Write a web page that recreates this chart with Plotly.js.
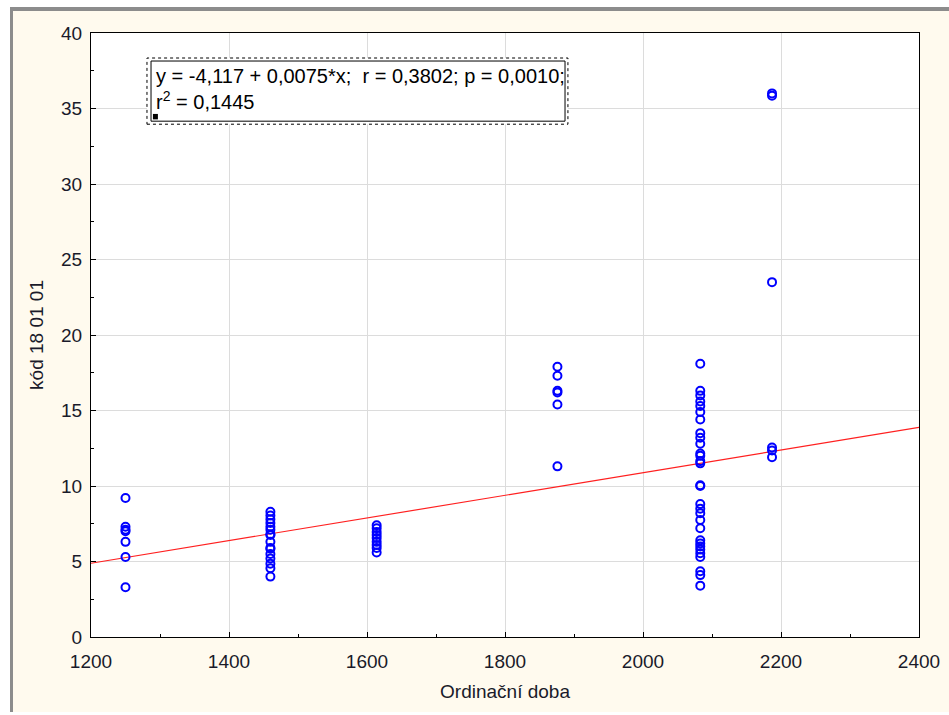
<!DOCTYPE html>
<html>
<head>
<meta charset="utf-8">
<script src="https://cdn.plot.ly/plotly-3.0.1.min.js"></script>
<style>
  html, body { margin: 0; padding: 0; background: #ffffff; }
  #frame { position: absolute; left: 10px; top: 7px; width: 939px; height: 705px;
           background: #fffaee; border-top: 4px solid #8c8c8c; border-left: 3px solid #8c8c8c; box-sizing: border-box; }
  #chart { position: absolute; left: 0; top: 0; width: 949px; height: 715px; }
</style>
</head>
<body>
<div id="frame"></div>
<div id="chart"></div>
<script>
// Data
const clusterX = [1250, 1460, 1614, 1876, 2083, 2187];
const clusterN = [7, 16, 9, 6, 30, 6];
const yKod = [
  9.2, 7.3, 7.1, 7.0, 6.3, 5.3, 3.3,
  8.3, 8.05, 7.8, 7.55, 7.3, 7.1, 6.8, 6.75, 6.3, 5.9, 5.85, 5.5, 5.2, 4.85, 4.55, 4.0,
  7.4, 7.2, 6.95, 6.75, 6.55, 6.3, 6.1, 5.9, 5.6,
  17.9, 17.3, 16.3, 16.2, 15.4, 11.3,
  18.1, 16.3, 16.0, 15.6, 15.3, 14.9, 14.4, 13.5, 13.2, 12.8, 12.15, 12.0, 11.65, 11.5, 10.05,
  10.0, 8.8, 8.5, 8.2, 7.75, 7.2, 6.4, 6.2, 6.0, 5.8, 5.55, 5.3, 4.35, 4.1, 3.4,
  36.0, 35.85, 23.5, 12.55, 12.35, 11.9
];
// Regression coefficients from the reference box
const intercept = -4.117;
const slope = 0.0075;
const xRange = [1200, 2400];
const yRange = [0, 40];
const xTicks = [1200, 1400, 1600, 1800, 2000, 2200, 2400];
const yTicks = [0, 5, 10, 15, 20, 25, 30, 35, 40];
const statText = "y = -4,117 + 0,0075*x;  r = 0,3802; p = 0,0010;<br>r<sup>2</sup> = 0,1445";
const xTitle = "Ordinační doba";
const yTitle = "kód 18 01 01";

// x value for each point, from its cluster
const xDoba = [];
clusterX.forEach((cx, i) => { for (let k = 0; k < clusterN[i]; k++) xDoba.push(cx); });

const lineX = xRange.slice();
const lineY = lineX.map(v => intercept + slope * v);

const fontFam = "Liberation Sans, Arial, sans-serif";

const traces = [
  { x: lineX, y: lineY, mode: 'lines', line: { color: '#ff2020', width: 1.2 }, hoverinfo: 'skip', showlegend: false },
  { x: xDoba, y: yKod, mode: 'markers', showlegend: false,
    marker: { symbol: 'circle-open', size: 8, color: '#0000ff', line: { color: '#0000ff', width: 2 } } }
];

const layout = {
  width: 949, height: 715,
  margin: { l: 91, r: 30, t: 33, b: 78 },
  paper_bgcolor: 'rgba(0,0,0,0)',
  plot_bgcolor: '#ffffff',
  font: { family: fontFam, size: 19, color: '#1a1a2a' },
  xaxis: {
    range: xRange, tickvals: xTicks, ticktext: xTicks.map(String),
    showgrid: true, gridcolor: '#dcdcdc', gridwidth: 1,
    zeroline: false, showline: true, linecolor: '#000000', linewidth: 1, mirror: true,
    ticks: 'inside', ticklen: 5, tickcolor: '#000000',
    minor: { dtick: 100, ticks: 'inside', ticklen: 3, tickcolor: '#000000', showgrid: false },
    tickfont: { size: 19 }, ticklabelstandoff: 7,
    title: { text: xTitle, font: { size: 19 }, standoff: 13 }
  },
  yaxis: {
    range: yRange, tickvals: yTicks, ticktext: yTicks.map(String),
    showgrid: true, gridcolor: '#dcdcdc', gridwidth: 1,
    zeroline: false, showline: true, linecolor: '#000000', linewidth: 1, mirror: true,
    ticks: 'inside', ticklen: 5, tickcolor: '#000000',
    minor: { dtick: 2.5, ticks: 'inside', ticklen: 3, tickcolor: '#000000', showgrid: false },
    tickfont: { size: 19 }, ticklabelstandoff: 4,
    title: { text: yTitle, font: { size: 19 }, standoff: 12 }
  },
  shapes: [
    { type: 'rect', xref: 'paper', yref: 'paper', x0: 0.0676, x1: 0.576, y0: 0.849, y1: 0.9586,
      line: { color: '#000000', width: 1, dash: 'dot' }, fillcolor: '#ffffff', layer: 'above' },
    { type: 'rect', xref: 'paper', yref: 'paper', x0: 0.0725, x1: 0.5725, y0: 0.854, y1: 0.9536,
      line: { color: '#000000', width: 1 }, fillcolor: '#ffffff', layer: 'above' },
    { type: 'rect', xref: 'paper', yref: 'paper', x0: 0.0748, x1: 0.0808, y0: 0.857, y1: 0.866,
      line: { width: 0 }, fillcolor: '#000000', layer: 'above' }
  ],
  annotations: [
    { xref: 'paper', yref: 'paper', x: 0.0760, y: 0.951, xanchor: 'left', yanchor: 'top',
      align: 'left', showarrow: false, text: statText,
      font: { family: fontFam, size: 20, color: '#000000' } }
  ]
};

Plotly.newPlot('chart', traces, layout, { displayModeBar: false, staticPlot: true });
</script>
</body>
</html>
